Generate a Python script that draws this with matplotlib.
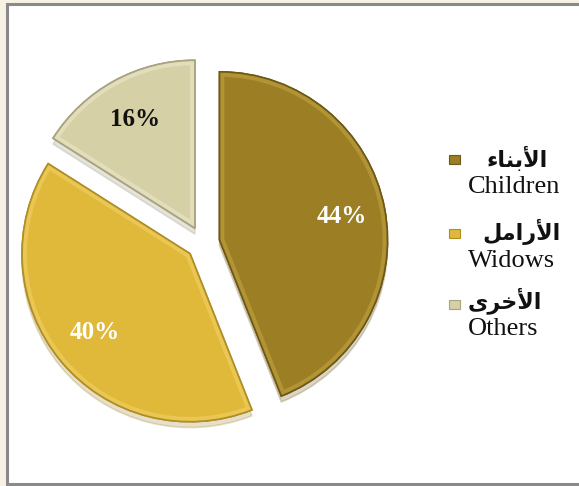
import matplotlib
matplotlib.use("Agg")
import matplotlib.pyplot as plt
from matplotlib.patches import Rectangle, Wedge
import numpy as np

# Data
categories_en = ["Children", "Widows", "Others"]
# Arabic labels (presentation forms, visual order so they render joined)
categories_ar = ["\uFE80\uFE8E\uFEE8\uFE91\uFEF7\uFE8D",   # الأبناء
                 "\uFEDE\uFEE3\uFE8D\uFEAD\uFEF7\uFE8D",   # الأرامل
                 "\uFEEF\uFEAE\uFEA7\uFEF7\uFE8D"]         # الأخرى
values = [44, 40, 16]
pct_labels = ["44%", "40%", "16%"]

colors = ["#9C7F24", "#E0B83A", "#D6D0A6"]
highlights = ["#B89A3A", "#EDCB5A", "#E6E1C0"]
edges = ["#6E5816", "#B08E26", "#A9A27E"]
pct_colors = ["white", "white", "#111111"]

W, H = 579, 486
fig = plt.figure(figsize=(W / 100, H / 100), dpi=100)
fig.patch.set_facecolor("#F7F2E4")

# white chart area with gray border
fig.patches.append(Rectangle((7 / W, 2 / H), (W + 10) / W, (H - 6) / H,
                             transform=fig.transFigure, facecolor="white",
                             edgecolor="#8A8A8A", linewidth=2.2, zorder=-5))

cx, cy, r = 203, 243, 168
half = 1.2 * r
ax = fig.add_axes([(cx - half) / W, (H - cy - half) / H, 2 * half / W, 2 * half / H])
ax.set_zorder(2)
ax.patch.set_alpha(0)

wedges, _ = ax.pie(values, colors=colors, startangle=90, counterclock=False,
                   explode=[0.1, 0.1, 0.1], radius=1.0,
                   wedgeprops=dict(linewidth=1.2),
                   shadow=dict(ox=0.0, oy=-0.025, shade=0.3, alpha=0.25))
ax.set_xlim(-1.2, 1.2)
ax.set_ylim(-1.2, 1.2)
ax.set_aspect("equal")
ax.axis("off")

# bevel-like inner highlight for each slice
for w, hl in zip(wedges, highlights):
    bevel = Wedge(w.center, w.r, w.theta1, w.theta2, facecolor="none",
                  edgecolor=hl, linewidth=7, alpha=0.8, zorder=w.get_zorder() + 0.1)
    ax.add_patch(bevel)
    bevel.set_clip_path(w)

total = sum(values)
start = 90.0
for w, e, lab, c, v in zip(wedges, edges, pct_labels, pct_colors, values):
    w.set_edgecolor(e)
    outline = Wedge(w.center, w.r, w.theta1, w.theta2, facecolor="none",
                    edgecolor=e, linewidth=1.2, zorder=w.get_zorder() + 0.2)
    ax.add_patch(outline)
    ang = np.deg2rad(start - 360 * v / total / 2)
    start -= 360 * v / total
    ex = 0.1
    d = 0.74
    x = (ex + d) * np.cos(ang)
    y = (ex + d) * np.sin(ang)
    ax.text(x, y, lab, ha="center", va="center", color=c, fontsize=18,
            fontweight="bold", family="Liberation Serif", zorder=5)

# Legend
marker_y = [160, 234, 304]
ar_x = [517, 521, 505]
en_x = [514, 512, 503]
ar_y = [158, 232, 301]
en_y = [187, 261, 329]
for i in range(3):
    fig.patches.append(Rectangle(((449) / W, (H - marker_y[i] - 4.5) / H), 11 / W, 9 / H,
                                 transform=fig.transFigure, facecolor=colors[i],
                                 edgecolor=edges[i], linewidth=0.8, zorder=3))
    fig.text(ar_x[i] / W, 1 - ar_y[i] / H, categories_ar[i], ha="center", va="center",
             fontsize=16, fontweight="bold", family="DejaVu Sans", color="#111111")
    fig.text(en_x[i] / W, 1 - en_y[i] / H, categories_en[i], ha="center", va="center",
             fontsize=19, family="Liberation Serif", color="#111111")

fig.savefig("out.png", dpi=100, facecolor=fig.get_facecolor())
